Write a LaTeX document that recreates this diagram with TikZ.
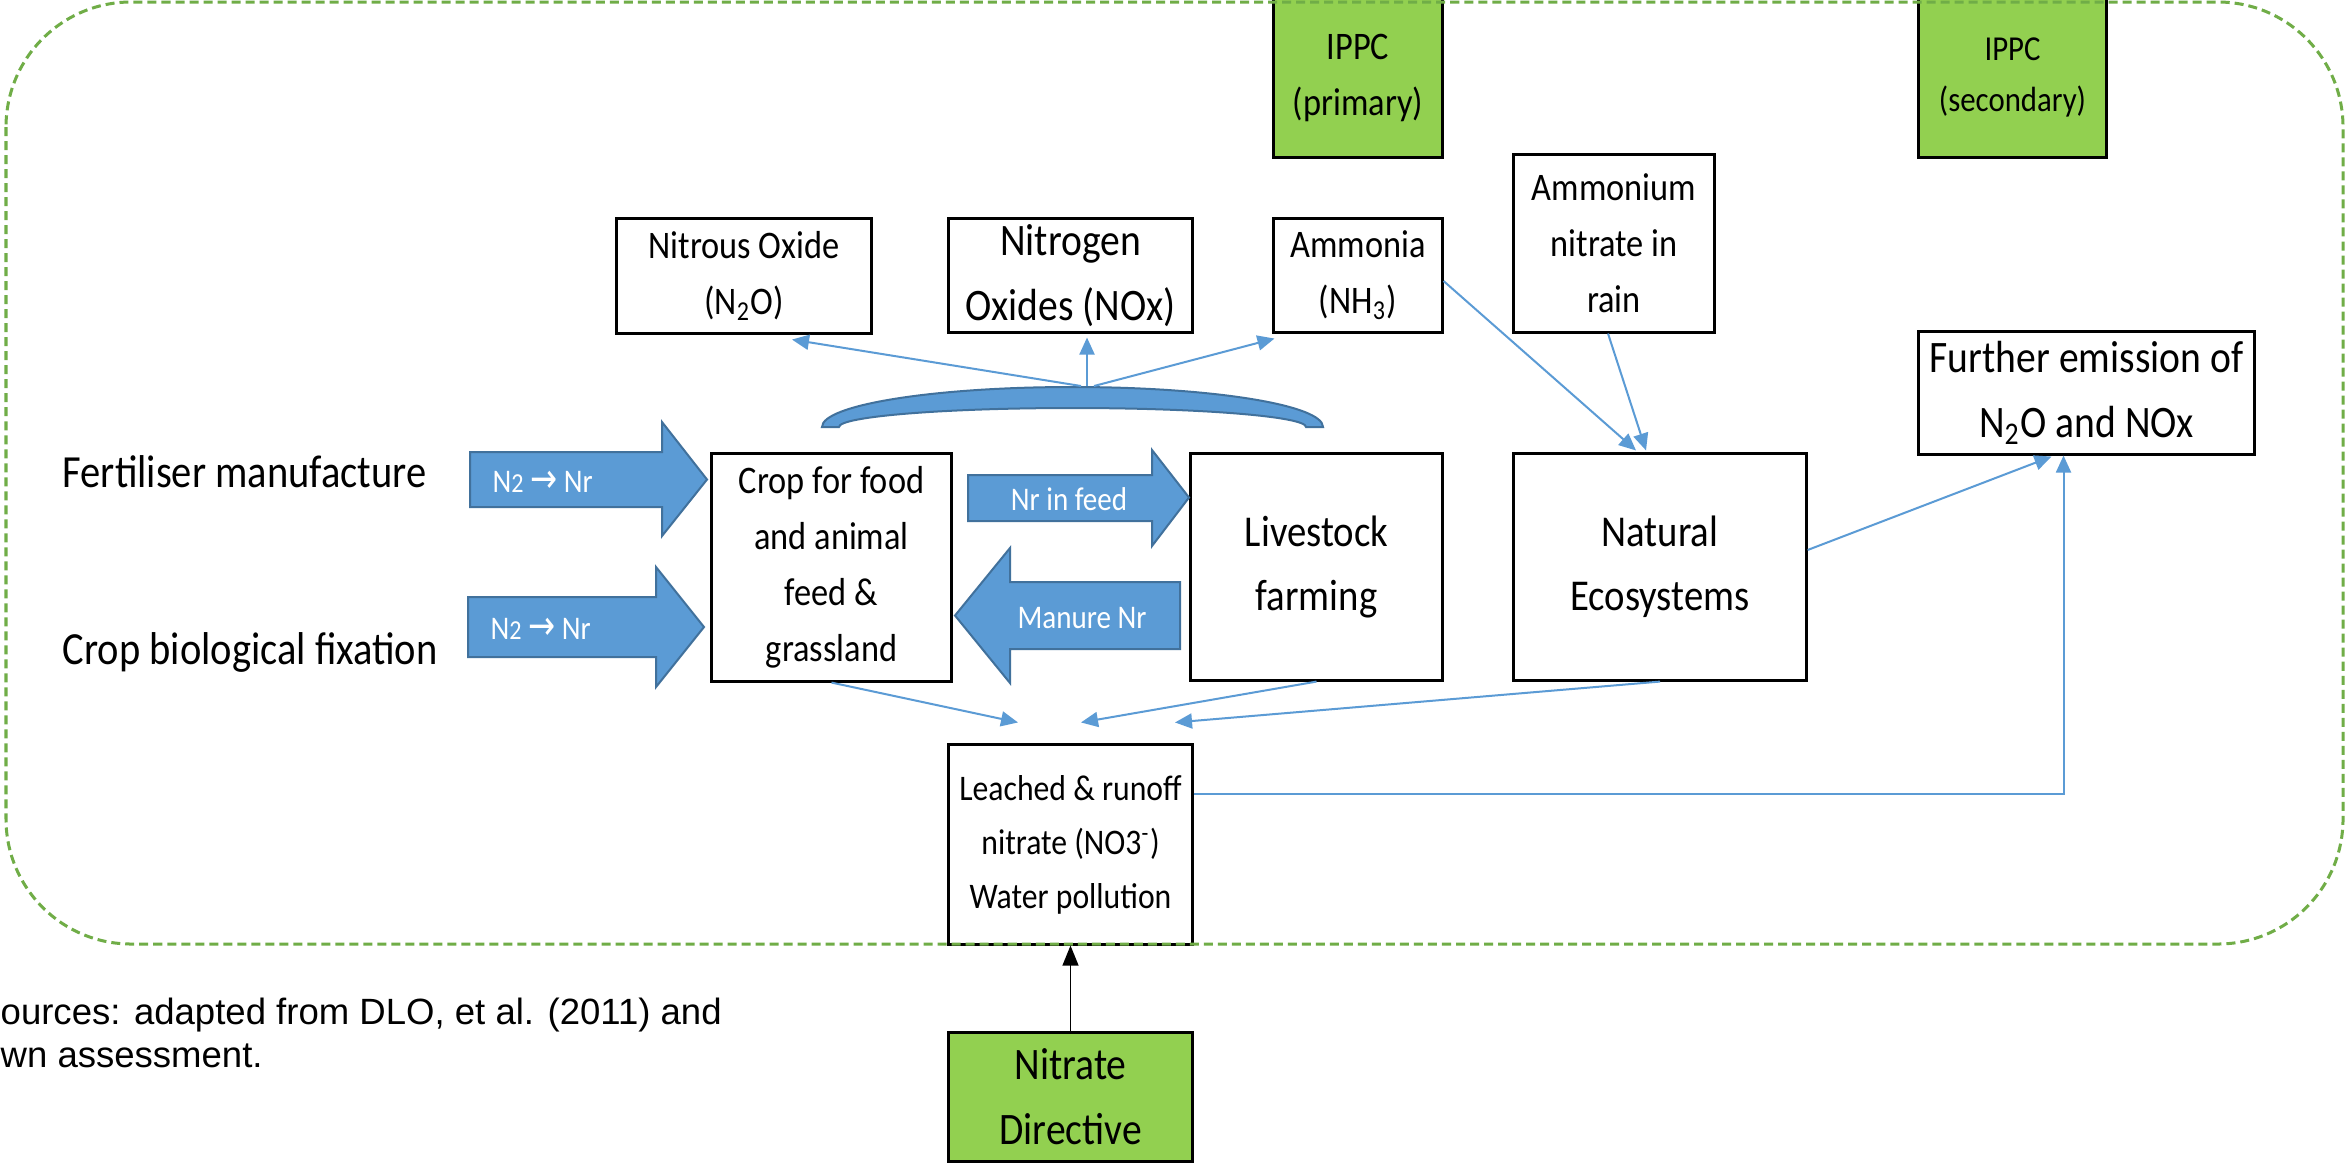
\documentclass[tikz,border=0pt]{standalone}
\usepackage{fontspec}
\setmainfont{Carlito}[FakeStretch=0.88]
\newfontfamily\arialfont{Liberation Sans}
\newfontfamily\arrowfont{DejaVu Sans}[FakeStretch=0.8]
\usetikzlibrary{arrows.meta,calc}
\definecolor{connblue}{HTML}{5B9BD5}
\definecolor{blkfill}{HTML}{5B9BD5}
\definecolor{blkdraw}{HTML}{41719C}
\definecolor{greenfill}{HTML}{92D050}
\definecolor{framegreen}{HTML}{70AD47}
\tikzset{
  box/.style={draw=black, line width=0.03cm, fill=white, inner sep=0pt, align=center},
  gbox/.style={box, fill=greenfill},
  connline/.style={draw=connblue, line width=0.02cm, -{Triangle[length=0.17cm,width=0.15cm]}},
  blackarrow/.style={draw=black, line width=0.012cm, -{Triangle[length=0.2cm,width=0.16cm]}},
  blk/.style={fill=blkfill, draw=blkdraw, line width=0.02cm},
  blklbl/.style={text=white, inner sep=0pt, font=\fontsize{9.39pt}{11pt}\selectfont},
  lbl/.style={inner sep=0pt, anchor=base west},
  outerframe/.style={draw=framegreen, line width=0.03cm, dash pattern=on 0.09cm off 0.05cm, rounded corners=1.25cm},
  fa/.style={font=\fontsize{11.1pt}{15.93pt}\selectfont},
  fb/.style={font=\fontsize{12.8pt}{18.49pt}\selectfont},
  fc/.style={font=\fontsize{12.52pt}{18.21pt}\selectfont},
  fd/.style={font=\fontsize{10.24pt}{15.36pt}\selectfont},
  fe/.style={font=\fontsize{9.96pt}{14.51pt}\selectfont},
  ff/.style={font=\fontsize{13.09pt}{16pt}\selectfont}
}
\newcommand\ntwo{N{\fontsize{7.8pt}{9pt}\selectfont 2}}
\newcommand\rarr{{\arrowfont\fontsize{11.5pt}{11pt}\selectfont →}}
\begin{document}
\begin{tikzpicture}[x=0.01cm,y=0.01cm]
\useasboundingbox (0,0) rectangle (2346,-1163);
\fill[white] (0,0) rectangle (2346,-1163);

% boxes
\node[gbox, minimum width=1.68cm, minimum height=1.59cm, fa] (ippc1) at (1358,-77.5) {IPPC\\(primary)};
\node[gbox, minimum width=1.87cm, minimum height=1.59cm, fe] (ippc2) at (2012.5,-77.5) {IPPC\\(secondary)};
\node[box, minimum width=2.54cm, minimum height=1.14cm, fa] (nitrous) at (744,-276) {Nitrous Oxide\\(N\textsubscript{2}O)};
\node[box, minimum width=2.43cm, minimum height=1.13cm, fb] (nitrogen) at (1070.5,-275.5) {Nitrogen\\Oxides (NOx)};
\node[box, minimum width=1.68cm, minimum height=1.13cm, fa] (ammonia) at (1358,-275.5) {Ammonia\\(NH\textsubscript{3})};
\node[box, minimum width=2.00cm, minimum height=1.77cm, fa] (ammonium) at (1614,-243.5) {Ammonium\\nitrate in\\rain};
\node[box, minimum width=3.35cm, minimum height=1.22cm, fb] (further) at (2086.5,-393) {Further emission of\\N\textsubscript{2}O and NOx};
\node[box, minimum width=2.39cm, minimum height=2.27cm, fa] (crop) at (831.5,-567.5) {Crop for food\\and animal\\feed \&\\grassland};
\node[box, minimum width=2.51cm, minimum height=2.26cm, fc] (livestock) at (1316.5,-567) {Livestock\\farming};
\node[box, minimum width=2.92cm, minimum height=2.26cm, fc] (natural) at (1660,-567) {Natural\\Ecosystems};
\node[box, minimum width=2.43cm, minimum height=1.99cm, fd] (leached) at (1070.5,-844.5) {Leached \& runoff\\nitrate (NO3\textsuperscript{-})\\Water pollution};
\node[gbox, minimum width=2.43cm, minimum height=1.28cm, fb] (nitrate) at (1070.5,-1097) {Nitrate\\Directive};

% left labels
\node[lbl, ff] (fert) at (62,-487) {Fertiliser manufacture};
\node[lbl, ff] (cbf) at (62,-664) {Crop biological fixation};

% sources
\node[lbl, font=\arialfont\fontsize{10.39pt}{12.23pt}\selectfont] (src1) at (0,-1024) {ources: adapted from DLO, et al. (2011) and};
\node[lbl, font=\arialfont\fontsize{10.39pt}{12.23pt}\selectfont] (src2) at (0,-1067) {wn assessment.};

% block arrows
\draw[blk] (470,-452) -- (662,-452) -- (662,-422) -- (707,-479.5) -- (662,-536) -- (662,-507) -- (470,-507) -- cycle;
\node[blklbl, anchor=base west] (a1) at (492,-492) {\ntwo\ \rarr\ Nr};
\draw[blk] (468,-597) -- (656,-597) -- (656,-567) -- (704,-627) -- (656,-687) -- (656,-657) -- (468,-657) -- cycle;
\node[blklbl, anchor=base west] (a2) at (490,-639) {\ntwo\ \rarr\ Nr};
\draw[blk] (968,-475) -- (1152,-475) -- (1152,-450) -- (1189,-497.5) -- (1152,-546) -- (1152,-521) -- (968,-521) -- cycle;
\node[blklbl, anchor=base] (a3) at (1069,-510) {Nr in feed};
\draw[blk] (1180,-582) -- (1010,-582) -- (1010,-548) -- (955,-615.5) -- (1010,-683) -- (1010,-649) -- (1180,-649) -- cycle;
\node[blklbl, anchor=base] (a4) at (1082,-628) {Manure Nr};

% brace
\draw[blk] (822,-427) arc[start angle=180,end angle=0,x radius=250.5,y radius=40] -- (1306,-427) arc[start angle=0,end angle=180,x radius=233.5,y radius=19] -- cycle;
\coordinate (bL) at (1081,-386);
\coordinate (bM) at (1087,-386);
\coordinate (bR) at (1094,-386);

% connectors
\draw[connline] (bL) -- ($(nitrous.south)+(48,-5)$);
\draw[connline] (bM) -- ($(nitrogen.south)+(16.5,-4)$);
\draw[connline] (bR) -- ($(ammonia.south west)+(2,-5)$);
\draw[connline] ($(ammonia.east)+(0,-5.5)$) -- ($(natural.north)+(-24,2)$);
\draw[connline] ($(ammonium.south)+(-6,0)$) -- ($(natural.north)+(-14,2)$);
\draw[connline] ($(natural.east)+(0,17)$) -- ($(further.south)+(-35,-1)$);
\draw[connline] ($(leached.east)+(0,50.5)$) -| ($(further.south)+(-23,0)$);
\draw[connline] (crop.south) -- ($(leached.north)+(-52.5,21)$);
\draw[connline] (livestock.south) -- ($(leached.north)+(10.5,21)$);
\draw[connline] (natural.south) -- ($(leached.north)+(104.5,21)$);

% outer frame
\draw[outerframe] (6,-2) rectangle (2343,-944);

\draw[blackarrow] (nitrate.north) -- (leached.south);
\end{tikzpicture}
\end{document}
